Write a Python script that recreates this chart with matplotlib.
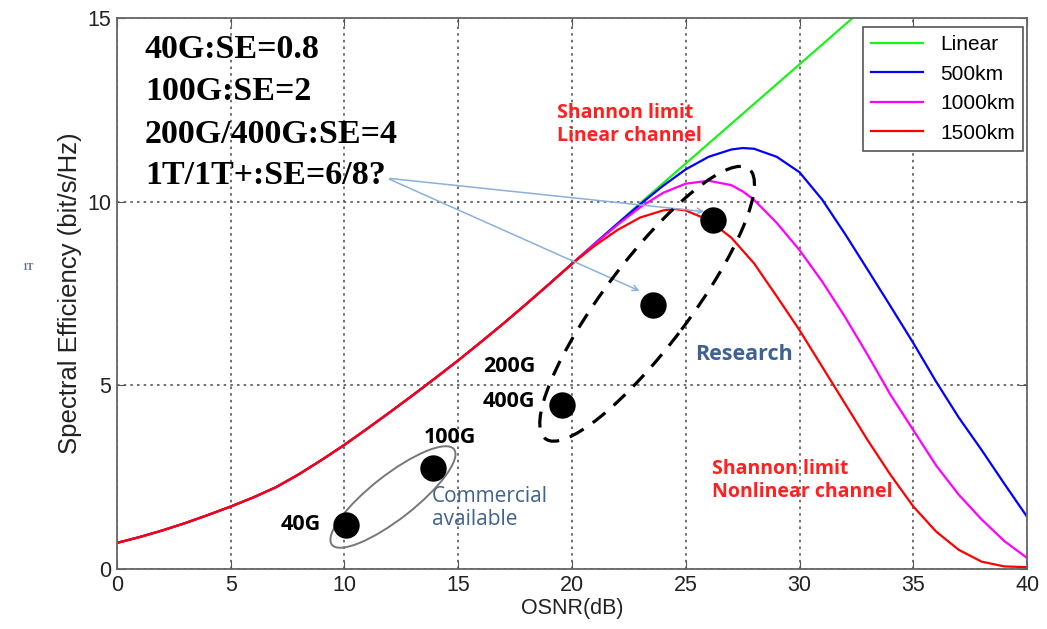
import matplotlib.pyplot as plt
import matplotlib.transforms as mtransforms
from matplotlib.patches import Ellipse

# OSNR grid (dB) and read-off spectral efficiency values
osnr_common = [0, 1, 2, 3, 4, 5, 6, 7, 8, 9, 10, 11, 12, 13, 14, 15, 16, 17, 18, 19, 20]
se_common = [0.71, 0.87, 1.05, 1.25, 1.47, 1.70, 1.95, 2.23, 2.58, 2.97, 3.38,
             3.82, 4.27, 4.73, 5.20, 5.68, 6.18, 6.69, 7.22, 7.76, 8.31]

osnr_lin = [21, 22, 23, 24, 25, 26, 27, 28, 29, 30, 31, 32, 33]
se_lin = [8.86, 9.41, 9.96, 10.50, 11.04, 11.58, 12.12, 12.66, 13.20, 13.74, 14.28, 14.82, 15.36]

osnr_tail = [21, 22, 23, 24, 25, 26, 27, 27.5, 28, 29, 30, 31, 32, 33, 34, 35, 36, 37, 38, 39, 40]
se_500 = [8.86, 9.40, 9.93, 10.43, 10.88, 11.22, 11.42, 11.46, 11.44, 11.22, 10.80, 10.05,
          9.12, 8.14, 7.15, 6.15, 5.10, 4.12, 3.24, 2.32, 1.42]
se_1000 = [8.85, 9.37, 9.85, 10.24, 10.49, 10.57, 10.45, 10.28, 10.05, 9.42, 8.68, 7.82,
           6.86, 5.82, 4.74, 3.78, 2.82, 2.02, 1.35, 0.76, 0.30]
osnr_1500 = [21, 22, 23, 24, 24.5, 25, 26, 27, 28, 29, 30, 31, 32, 33, 34, 35, 36, 37, 38, 39, 40]
se_1500 = [8.80, 9.23, 9.57, 9.76, 9.80, 9.76, 9.50, 9.02, 8.32, 7.42, 6.50, 5.50,
           4.50, 3.50, 2.56, 1.70, 1.02, 0.52, 0.20, 0.07, 0.05]

# system points (OSNR, SE)
dot_x = [10.07, 13.9, 19.55, 23.56, 26.2]
dot_y = [1.2, 2.75, 4.47, 7.19, 9.5]

se_lines = ['40G:SE=0.8', '100G:SE=2', '200G/400G:SE=4', '1T/1T+:SE=6/8?']

fig = plt.figure(figsize=(10.47, 6.29), dpi=100)
ax = fig.add_axes([0.1117, 0.0954, 0.8693, 0.876])

ax.plot(osnr_common + osnr_lin, se_common + se_lin, color=(0.1, 0.95, 0.1), lw=1.6, label='Linear')
ax.plot(osnr_common + osnr_tail, se_common + se_500, color='#0000ff', lw=1.6, label='500km')
ax.plot(osnr_common + osnr_tail, se_common + se_1000, color='#ff00ff', lw=1.6, label='1000km')
ax.plot(osnr_common + osnr_1500, se_common + se_1500, color='#ff0000', lw=1.6, label='1500km')

ax.plot(dot_x, dot_y, 'o', color='black', ms=18, zorder=5)

# ellipses sized in inches, centred on data points
tr1 = fig.dpi_scale_trans + mtransforms.ScaledTranslation(12.13, 1.96, ax.transData)
ax.add_patch(Ellipse((0, 0), 1.55, 0.44, angle=38, transform=tr1,
                     fill=False, ec='#777777', lw=1.4, zorder=4))
tr2 = fig.dpi_scale_trans + mtransforms.ScaledTranslation(23.3, 7.22, ax.transData)
ax.add_patch(Ellipse((0, 0), 3.38, 0.86, angle=53, transform=tr2,
                     fill=False, ec='black', lw=2.3, ls=(0, (5, 3.5)), zorder=4))

# arrows from the "?"
for tx, ty in [(23.08, 7.54), (25.93, 9.72)]:
    ax.annotate('', xy=(tx, ty), xytext=(11.87, 10.64),
                arrowprops=dict(arrowstyle='->', color='#8ab0dc', lw=1.1))

for i, s in enumerate(se_lines):
    ax.text(1.23, [14.13, 12.99, 11.84, 10.70][i], s, family='Liberation Serif',
            fontweight='bold', fontsize=24.5, va='center', ha='left')

ax.text(19.34, 12.1, 'Shannon limit\nLinear channel', color='#ff2020', family='Open Sans',
        fontweight='bold', fontsize=14, va='center', linespacing=1.2)
ax.text(26.15, 2.42, 'Shannon limit\nNonlinear channel', color='#ff2020', family='Open Sans',
        fontweight='bold', fontsize=14, va='center', linespacing=1.2)
ax.text(25.4, 5.85, 'Research', color='#3f6290', family='Open Sans',
        fontweight='bold', fontsize=15.5, va='center')
ax.text(13.85, 1.66, 'Commercial\navailable', color='#3f6290', family='Open Sans',
        fontsize=15, va='center', linespacing=1.1)
for s, x, y in [('100G', 13.5, 3.57), ('200G', 16.09, 5.5), ('400G', 16.09, 4.57), ('40G', 7.2, 1.2)]:
    ax.text(x, y, s, family='Open Sans', fontweight='bold', fontsize=15.5, va='center')

fig.text(0.021, 0.574, '1T', family='Liberation Serif', fontweight='bold',
         fontsize=7, color='#5a6a8a', va='center')

ax.set_xlim(0, 40)
ax.set_ylim(0, 15)
ax.set_xticks([0, 5, 10, 15, 20, 25, 30, 35, 40])
ax.set_yticks([0, 5, 10, 15])
ax.grid(True, ls=(0, (1.5, 2.5)), color='#555555', lw=1.2)
ax.tick_params(direction='in', top=True, right=True, length=6, colors='#555555',
               labelcolor='#222222', labelsize=15.5, pad=4)
for lab in ax.get_xticklabels() + ax.get_yticklabels():
    lab.set_family('Liberation Sans')
for sp in ax.spines.values():
    sp.set_color('#666666')
    sp.set_linewidth(1.3)

ax.set_xlabel('OSNR(dB)', family='Liberation Sans', fontsize=15.5, color='#222222', labelpad=2)
ax.set_ylabel('Spectral Efficiency (bit/s/Hz)', family='Liberation Sans', fontsize=18.5,
              color='#222222', labelpad=4)

leg = ax.legend(loc='upper right', bbox_to_anchor=(0.9956, 0.9837), borderaxespad=0,
                prop={'family': 'Liberation Sans', 'size': 15}, fancybox=False,
                edgecolor='#555555', framealpha=1, handlelength=2.5, labelspacing=0.5)
leg.get_frame().set_linewidth(1.2)

fig.savefig('out.png', dpi=100)
